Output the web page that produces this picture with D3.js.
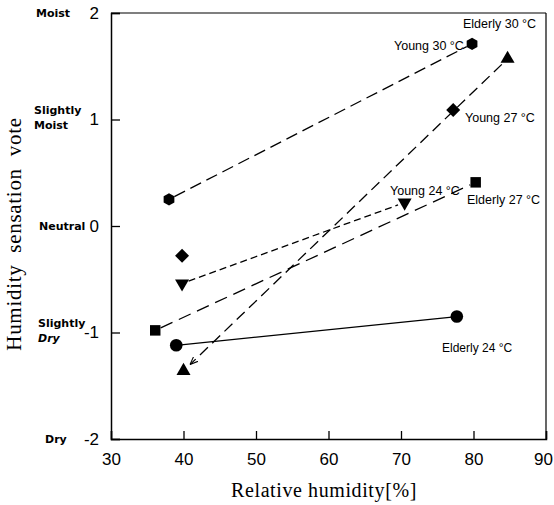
<!DOCTYPE html>
<html><head><meta charset="utf-8">
<script src="https://cdn.jsdelivr.net/npm/d3@7"></script>
<style>body{margin:0;background:#fff}</style>
</head><body>
<svg id="c" width="554" height="505"></svg>
<script>
const xTicks = [30,40,50,60,70,80,90];
const yTicks = [2,1,0,-1,-2];
const yCategories = [
  {v:2, lines:["Moist"]},
  {v:1, lines:["Slightly","Moist"]},
  {v:0, lines:["Neutral"]},
  {v:-1, lines:["Slightly","Dry"]},
  {v:-2, lines:["Dry"]}
];
const seriesNames = ["Young 30 °C","Elderly 30 °C","Young 27 °C","Young 24 °C","Elderly 27 °C","Elderly 24 °C"];
const young30 = [[38.0,0.25],[79.8,1.71]];
const elderly30 = [[84.7,1.57],[40.0,-1.36]];
const young27 = [[39.8,-0.28],[77.2,1.09]];
const young24 = [[39.8,-0.54],[70.5,0.22]];
const elderly27 = [[36.1,-0.98],[80.3,0.41]];
const elderly24 = [[39.0,-1.12],[77.7,-0.85]];

const svg = d3.select("#c");
const x = d3.scaleLinear().domain([30,90]).range([111,546]);
const y = d3.scaleLinear().domain([-2,2]).range([439,13]);

svg.append("defs").append("marker").attr("id","arr").attr("viewBox","0 0 10 10")
  .attr("refX",10).attr("refY",5).attr("markerWidth",8).attr("markerHeight",8)
  .attr("markerUnits","userSpaceOnUse").attr("orient","auto")
  .append("path").attr("d","M0,1 L10,5 L0,9").attr("fill","none").attr("stroke","#000").attr("stroke-width",1.3);

// frame
const g = svg.append("g");
g.append("line").attr("x1",x(30)).attr("x2",x(90)).attr("y1",y(2)).attr("y2",y(2)).attr("stroke","#000").attr("stroke-width",1.2);
g.append("line").attr("x1",x(90)).attr("x2",x(90)).attr("y1",y(2)).attr("y2",y(-2)).attr("stroke","#000").attr("stroke-width",1.2);

const xAxis = d3.axisBottom(x).tickValues(xTicks).tickSize(-8).tickPadding(14);
const xa = svg.append("g").attr("transform",`translate(0,${y(-2)})`).call(xAxis);
xa.selectAll("text").style("font-family","'Liberation Sans',Arial,sans-serif").style("font-size","17px").attr("fill","#000");
xa.selectAll(".tick text").filter(d=>d===90).attr("dx",-3);
xa.select(".domain").attr("stroke-width",1.5);

const yAxis = d3.axisLeft(y).tickValues(yTicks).tickSize(-9).tickPadding(12).tickFormat(d=>String(d));
const ya = svg.append("g").attr("transform",`translate(${x(30)},0)`).call(yAxis);
ya.selectAll("text").style("font-family","'Liberation Sans',Arial,sans-serif").style("font-size","17px").attr("fill","#000");
ya.select(".domain").attr("stroke-width",1.5);
ya.selectAll(".tick line").attr("stroke-width",1.3);
xa.selectAll(".tick line").attr("stroke-width",1.3);

// category labels
const catX = {2:36, 1:34, 0:39, "-1":38, "-2":45};
yCategories.forEach(c=>{
  const t = svg.append("text").attr("x",catX[c.v]).attr("y",y(c.v) + (c.lines.length>1? -6:4))
    .style("font-family","'DejaVu Sans',sans-serif").style("font-weight","bold").style("font-size","11px");
  c.lines.forEach((l,i)=>{
    t.append("tspan").attr("x",catX[c.v]).attr("dy", i===0?0:15).text(l)
     .style("font-style", (c.v===-1 && i===1)?"italic":"normal");
  });
});

// axis titles
svg.append("text").attr("x",324).attr("y",497).attr("text-anchor","middle")
  .style("font-family","'Liberation Serif','Times New Roman',serif").style("font-size","20px").style("letter-spacing","0.6px").text("Relative humidity[%]");
svg.append("text").attr("transform","translate(21,234) rotate(-90)").attr("text-anchor","middle")
  .style("font-family","'Liberation Serif','Times New Roman',serif").style("font-size","21px").style("letter-spacing","0.7px").style("word-spacing","6px").text("Humidity sensation vote");

// lines
const line = d3.line().x(d=>x(d[0])).y(d=>y(d[1]));
function trimmed(p, r0, r1){
  const x0=x(p[0][0]), y0=y(p[0][1]), x1=x(p[1][0]), y1=y(p[1][1]);
  const L=Math.hypot(x1-x0,y1-y0), ux=(x1-x0)/L, uy=(y1-y0)/L;
  return `M${x0+ux*r0},${y0+uy*r0}L${x1-ux*r1},${y1-uy*r1}`;
}
svg.append("path").attr("d",trimmed(young30,6,6)).attr("stroke","#000").attr("fill","none").attr("stroke-width",1.3).attr("stroke-dasharray","12,6");
svg.append("path").attr("d",trimmed(elderly30,8,9)).attr("stroke","#000").attr("fill","none").attr("stroke-width",1.3).attr("stroke-dasharray","11,6").attr("marker-end","url(#arr)");
svg.append("path").attr("d",trimmed(young24,7,7)).attr("stroke","#000").attr("fill","none").attr("stroke-width",1.3).attr("stroke-dasharray","7,4");
svg.append("path").attr("d",trimmed(elderly27,6,6)).attr("stroke","#000").attr("fill","none").attr("stroke-width",1.3).attr("stroke-dasharray","13,7");
svg.append("path").attr("d",line(elderly24)).attr("stroke","#000").attr("fill","none").attr("stroke-width",1.3);

// markers
function pts(data, type, size){
  svg.selectAll(null).data(data).enter().append("path")
    .attr("transform",d=>`translate(${x(d[0])},${y(d[1])})`)
    .attr("d", d3.symbol().type(type).size(size)).attr("fill","#000");
}
const hex = {draw(ctx,size){const r=Math.sqrt(size/2.6);for(let i=0;i<6;i++){const a=Math.PI/3*i+Math.PI/6;const px=r*Math.cos(a),py=r*Math.sin(a);i?ctx.lineTo(px,py):ctx.moveTo(px,py);}ctx.closePath();}};
const triDown = {draw(ctx,size){const s=Math.sqrt(size*4/Math.sqrt(3));const h=s*Math.sqrt(3)/2;ctx.moveTo(-s/2,-h/3);ctx.lineTo(s/2,-h/3);ctx.lineTo(0,2*h/3);ctx.closePath();}};
const diamond = {draw(ctx,size){const r=Math.sqrt(size/2);ctx.moveTo(0,-r);ctx.lineTo(r,0);ctx.lineTo(0,r);ctx.lineTo(-r,0);ctx.closePath();}};
pts(young30, hex, 100);
pts(elderly30, d3.symbolTriangle, 85);
pts(young27, diamond, 98);
pts(young24, triDown, 85);
pts(elderly27, d3.symbolSquare, 110);
pts(elderly24, d3.symbolCircle, 125);

// series labels
const labelPos = [[394,50],[463,28],[465,122],[390,195],[467,204],[442,352]];
seriesNames.forEach((n,i)=>{
  svg.append("text").attr("x",labelPos[i][0]).attr("y",labelPos[i][1])
   .style("font-family","'Liberation Sans',Arial,sans-serif").style("font-size", i===5?"12px":"12.5px").text(n);
});
</script>
</body></html>
